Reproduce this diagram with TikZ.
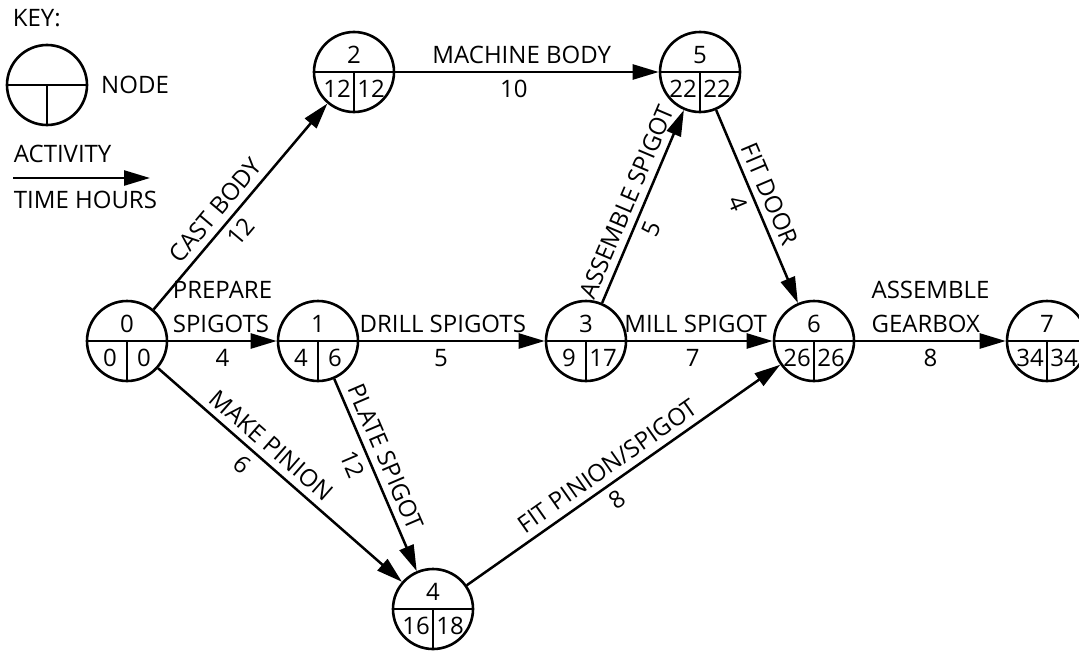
\documentclass[tikz,border=0pt]{standalone}
\usepackage{fontspec}
\setsansfont{Open Sans}
\usepackage{tikz}
\usetikzlibrary{arrows.meta,positioning}
\tikzstyle{actname}=[above, sloped, align=left]
\tikzstyle{acttime}=[below, sloped]
\tikzstyle{keytext}=[anchor=west]
\tikzset{event/.style n args={3}{circle, draw, line width=1.3pt, minimum size=40pt, inner sep=0pt,
    path picture={\draw[line width=1.3pt] (path picture bounding box.west) -- (path picture bounding box.east)
      (path picture bounding box.center) -- (path picture bounding box.south);},
    label={[yshift=8.5pt]center:#1},
    label={[xshift=-8.5pt,yshift=-8.5pt]center:#2},
    label={[xshift=8.5pt,yshift=-8.5pt]center:#3}}}
\begin{document}
\begin{tikzpicture}[x=0.5pt,y=-0.5pt,>={Triangle[length=13pt,width=7.5pt]},line width=1.25pt,font=\sffamily\fontsize{12}{17}\selectfont]
    \useasboundingbox (0,0) rectangle (1079,653);
    % key
    \node [keytext] (keytitle) at (5,18) {KEY:};
    \node [event={}{}{}] (key) at (47,85) {};
    \node [right=2.5pt of key] (keynode) {NODE};
    \node [keytext] (keyact) at (6,154) {ACTIVITY};
    \coordinate (ks) at (13,178);
    \coordinate (ke) at (150,178);
    \node [keytext] (keytime) at (6,200) {TIME HOURS};
    % network
    \node [event={0}{0}{0}] (n0) at (127,341) {};
    \node [event={1}{4}{6}] (n1) [right of=n0, node distance=95.5pt] {};
    \node [event={3}{9}{17}] (n3) [right of=n1, node distance=134pt] {};
    \node [event={6}{26}{26}] (n6) [right of=n3, node distance=114pt] {};
    \node [event={7}{34}{34}] (n7) [right of=n6, node distance=116.5pt] {};
    \node [event={2}{12}{12}] (n2) at (354,72) {};
    \node [event={5}{22}{22}] (n5) [right of=n2, node distance=173pt] {};
    \node [event={4}{16}{18}] (n4) at (433,609) {};
    \path[->]
    (ks) edge (ke)
    (n0) edge node[actname, pos=.43] {CAST BODY} node[acttime, pos=.43] {12} (n2)
    (n0) edge node[actname] {PREPARE\\SPIGOTS} node[acttime] {4} (n1)
    (n0) edge node[actname, pos=.42] {MAKE PINION} node[acttime, pos=.39] {6} (n4)
    (n2) edge node[actname, pos=.48] {MACHINE BODY} node[acttime, pos=.45] {10} (n5)
    (n1) edge node[actname, pos=.45] {DRILL SPIGOTS} node[acttime, pos=.44] {5} (n3)
    (n1) edge node[actname, pos=.44] {PLATE SPIGOT} node[acttime, pos=.41] {12} (n4)
    (n3) edge node[actname, pos=.49] {ASSEMBLE SPIGOT} node[acttime, pos=.42] {5} (n5)
    (n3) edge node[actname, pos=.47] {MILL SPIGOT} node[acttime, pos=.45] {7} (n6)
    (n5) edge node[actname, pos=.47] {FIT DOOR} node[acttime, pos=.45] {4} (n6)
    (n4) edge node[actname, pos=.48] {FIT PINION/SPIGOT} node[acttime, pos=.45] {8} (n6)
    (n6) edge node[actname] {ASSEMBLE\\GEARBOX} node[acttime] {8} (n7);
\end{tikzpicture}
\end{document}
